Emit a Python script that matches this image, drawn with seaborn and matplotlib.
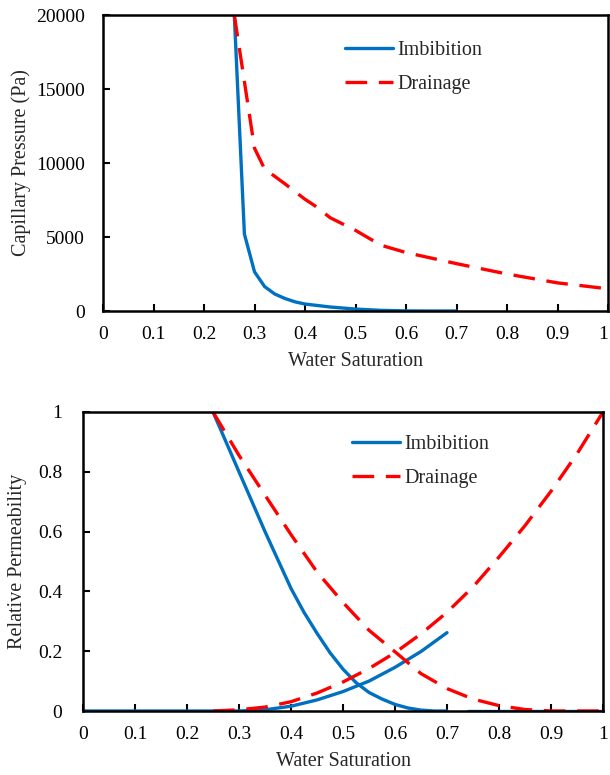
import matplotlib
matplotlib.use("Agg")
import matplotlib.pyplot as plt
import seaborn as sns

# ---- Capillary pressure data ----
pc_imb_sw = [0.26, 0.28, 0.30, 0.32, 0.34, 0.36, 0.38, 0.40, 0.45, 0.50, 0.55, 0.60, 0.65, 0.70]
pc_imb = [20000, 5200, 2650, 1650, 1150, 850, 620, 470, 270, 130, 45, 8, 0, 0]

pc_dra_sw = [0.26, 0.28, 0.30, 0.32, 0.36, 0.40, 0.42, 0.45, 0.50, 0.55, 0.60, 0.70, 0.80, 0.90, 1.00]
pc_dra = [20000, 15500, 11000, 9600, 8600, 7550, 7100, 6300, 5450, 4450, 3950, 3200, 2500, 1900, 1500]

# ---- Relative permeability data ----
kro_imb_sw = [0.25, 0.275, 0.30, 0.325, 0.35, 0.375, 0.40, 0.425, 0.45, 0.475, 0.50,
              0.525, 0.55, 0.575, 0.60, 0.625, 0.65, 0.675, 0.70]
kro_imb = [1.0, 0.90, 0.80, 0.70, 0.60, 0.505, 0.41, 0.33, 0.26, 0.195, 0.14,
           0.095, 0.062, 0.04, 0.022, 0.01, 0.003, 0.0, 0.0]
krw_imb_sw = [0.0, 0.25, 0.30, 0.35, 0.40, 0.45, 0.50, 0.55, 0.60, 0.65, 0.70]
krw_imb = [0.0, 0.0, 0.0, 0.004, 0.016, 0.037, 0.065, 0.10, 0.146, 0.199, 0.262]
tail_imb_sw = [0.74, 1.0]
tail_imb = [0.0, 0.0]

dr_sw = [0.25, 0.30, 0.35, 0.40, 0.45, 0.50, 0.55, 0.60, 0.65, 0.70, 0.75, 0.80, 0.85, 0.90, 0.95, 1.00]
kro_dra = [1.0, 0.855, 0.722, 0.59, 0.465, 0.363, 0.27, 0.198, 0.125, 0.075, 0.04, 0.018, 0.005, 0.0, 0.0, 0.0]
krw_dra = [0.0, 0.004, 0.013, 0.031, 0.06, 0.097, 0.142, 0.195, 0.258, 0.33, 0.415, 0.515, 0.62, 0.735, 0.86, 1.0]

x_ticks = [0, 0.1, 0.2, 0.3, 0.4, 0.5, 0.6, 0.7, 0.8, 0.9, 1]
x_labels = ["0", "0.1", "0.2", "0.3", "0.4", "0.5", "0.6", "0.7", "0.8", "0.9", "1"]
pc_ticks = [0, 5000, 10000, 15000, 20000]
kr_ticks = [0, 0.2, 0.4, 0.6, 0.8, 1]
kr_labels = ["0", "0.2", "0.4", "0.6", "0.8", "1"]

BLUE = "#0070C0"
RED = "#FF0000"
FS = 14
LFS = 14.5

sns.set_style("white")
plt.rcParams["font.family"] = ["Liberation Serif", "DejaVu Serif"]

fig = plt.figure(figsize=(6.10, 7.75), dpi=100)
ax1 = fig.add_axes([103/610, 1-311/775, 505/610, 296/775])
ax2 = fig.add_axes([83/610, 1-711/775, 520/610, 299/775])

lw = 2.4
dash = (6.5, 3.5)

# Top: capillary pressure
sns.lineplot(x=pc_imb_sw, y=pc_imb, ax=ax1, color=BLUE, lw=lw, sort=False, label="Imbibition")
sns.lineplot(x=pc_dra_sw, y=pc_dra, ax=ax1, color=RED, lw=lw, sort=False, label="Drainage")
ax1.lines[-1].set_dashes(dash)
ax1.set_xlim(0, 1)
ax1.set_ylim(0, 20000)
ax1.set_xticks(x_ticks)
ax1.set_xticklabels(x_labels)
ax1.set_yticks(pc_ticks)
ax1.set_xlabel("Water Saturation", fontsize=LFS, labelpad=6.5)
ax1.set_ylabel("Capillary Pressure (Pa)", fontsize=LFS, labelpad=4)

# Bottom: relative permeability
sns.lineplot(x=kro_imb_sw, y=kro_imb, ax=ax2, color=BLUE, lw=lw, sort=False, label="Imbibition")
sns.lineplot(x=krw_imb_sw, y=krw_imb, ax=ax2, color=BLUE, lw=lw, sort=False)
sns.lineplot(x=tail_imb_sw, y=tail_imb, ax=ax2, color=BLUE, lw=lw, sort=False)
sns.lineplot(x=dr_sw, y=kro_dra, ax=ax2, color=RED, lw=lw, sort=False, label="Drainage")
ax2.lines[-1].set_dashes(dash)
sns.lineplot(x=dr_sw, y=krw_dra, ax=ax2, color=RED, lw=lw, sort=False)
ax2.lines[-1].set_dashes(dash)
ax2.set_xlim(0, 1)
ax2.set_ylim(0, 1)
ax2.set_xticks(x_ticks)
ax2.set_xticklabels(x_labels)
ax2.set_yticks(kr_ticks)
ax2.set_yticklabels(kr_labels)
ax2.set_xlabel("Water Saturation", fontsize=LFS, labelpad=6.5)
ax2.set_ylabel("Relative Permeability", fontsize=LFS, labelpad=8)

for ax in (ax1, ax2):
    for s in ax.spines.values():
        s.set_visible(True)
        s.set_color("black")
        s.set_linewidth(1.8)
    ax.tick_params(direction="in", length=5, width=1.5, labelsize=FS, colors="black",
                   bottom=True, left=True)
    ax.tick_params(axis="x", pad=11)
ax1.tick_params(axis="y", pad=13)
ax2.tick_params(axis="y", pad=15)
ax1.get_xticklabels()[-1].set_horizontalalignment("right")
ax1.get_xticklabels()[-1].set_x(1.0)

ax1.legend(loc="upper left", bbox_to_anchor=(0.444, 0.975), frameon=False, fontsize=LFS,
           handlelength=2.35, handletextpad=0.25, labelspacing=0.75)
ax2.legend(loc="upper left", bbox_to_anchor=(0.483, 0.985), frameon=False, fontsize=LFS,
           handlelength=2.35, handletextpad=0.25, labelspacing=0.75)
for lg in (ax1.get_legend(), ax2.get_legend()):
    for h in lg.legend_handles:
        h.set_linewidth(lw)
    lg.legend_handles[1].set_dashes(dash)

fig.savefig("out.png", dpi=100)
